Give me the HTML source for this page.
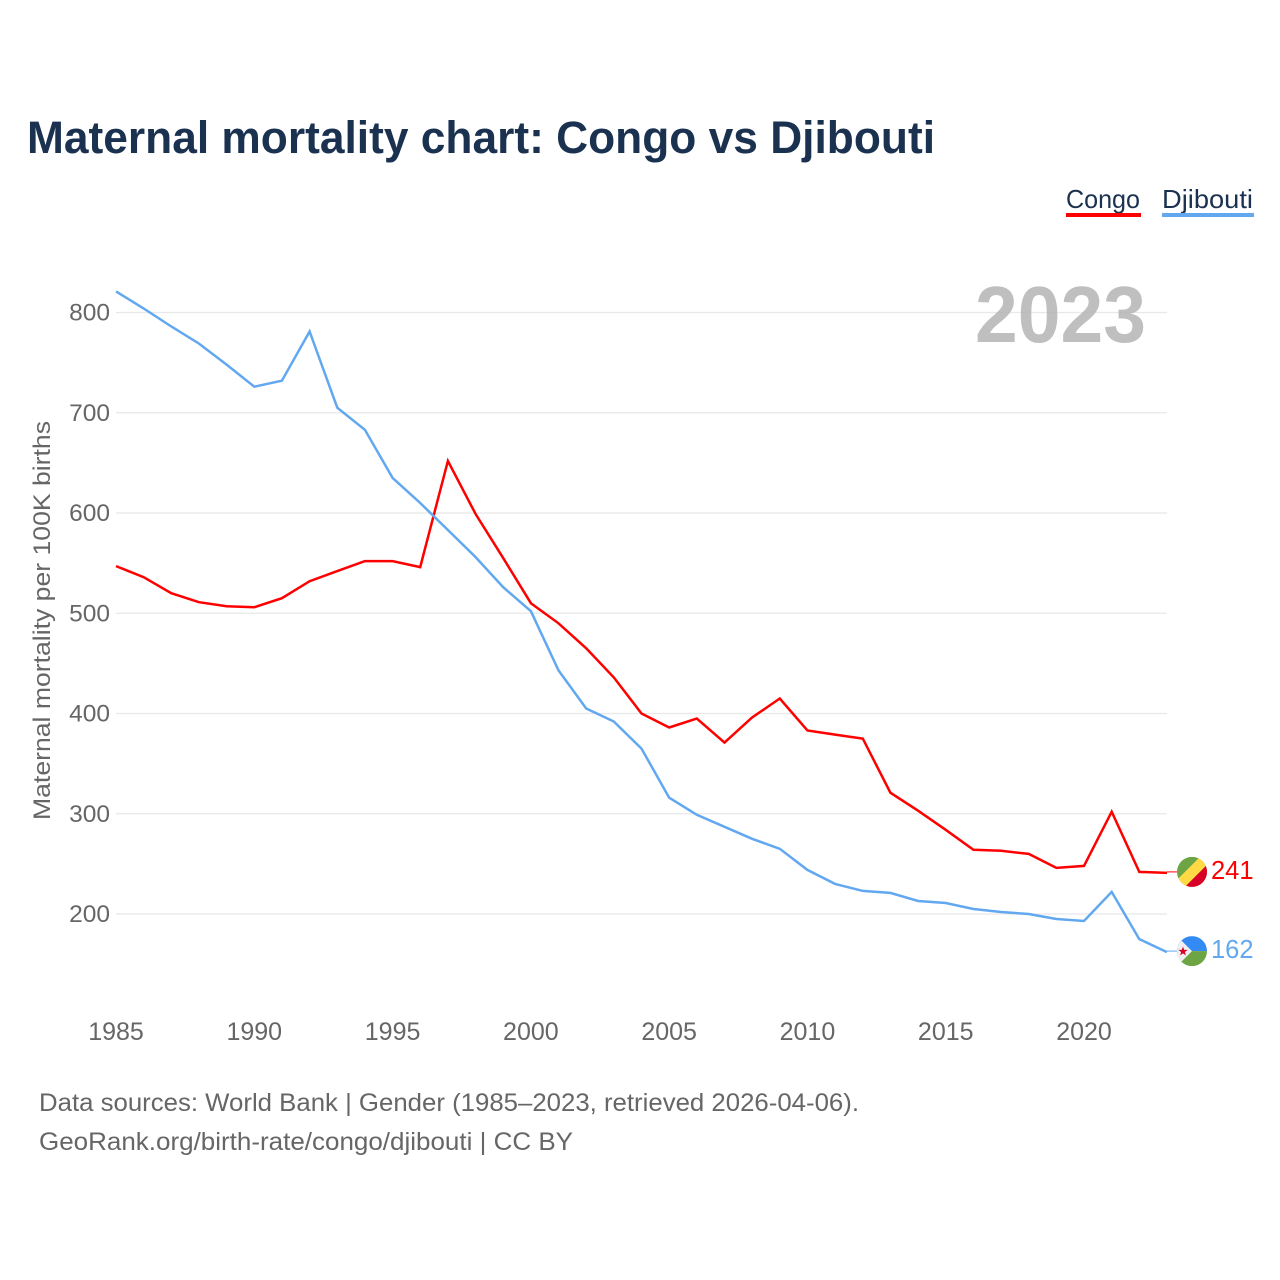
<!DOCTYPE html>
<html lang="en">
<head>
<meta charset="utf-8">
<title>Maternal mortality chart: Congo vs Djibouti</title>
<style>
html,body{margin:0;padding:0;background:#fff;width:1280px;height:1280px;overflow:hidden}
svg{display:block}
text{font-family:"Liberation Sans",sans-serif}
</style>
</head>
<body>
<svg id="chart" xmlns="http://www.w3.org/2000/svg" width="1280" height="1280" viewBox="0 0 1280 1280">
  <rect width="1280" height="1280" fill="#ffffff"/>
  <text x="27" y="153" font-size="45" font-weight="700" fill="#1a3150" textLength="908" lengthAdjust="spacingAndGlyphs">Maternal mortality chart: Congo vs Djibouti</text>

  <g>
    <text x="1066" y="208" font-size="26" fill="#1a3150" textLength="74" lengthAdjust="spacingAndGlyphs">Congo</text>
    <rect x="1066" y="213" width="75" height="4" fill="#ff0000"/>
  </g>
  <g>
    <text x="1162" y="208" font-size="26" fill="#1a3150" textLength="91" lengthAdjust="spacingAndGlyphs">Djibouti</text>
    <rect x="1162" y="213" width="92" height="4" fill="#62a8f0"/>
  </g>

  <g id="grid"></g>
  <text x="975" y="342" font-size="80" font-weight="700" fill="#b4b4b4" fill-opacity="0.85" textLength="171" lengthAdjust="spacingAndGlyphs">2023</text>
  <g id="yticks"></g>
  <g id="xticks"></g>
  <text transform="translate(50 820) rotate(-90)" font-size="24.5" fill="#666666" textLength="399" lengthAdjust="spacingAndGlyphs">Maternal mortality per 100K births</text>
  <g id="series"></g>

  <defs>
    <clipPath id="flag-clip"><circle cx="0" cy="0" r="15"/></clipPath>
  </defs>
  <g id="flag-congo">
    <g clip-path="url(#flag-clip)">
      <rect x="-15" y="-15" width="30" height="30" fill="#6da544"/>
      <polygon points="-22,15 15,-22 24,-16 -16,24" fill="#ffda44"/>
      <polygon points="-16,24 24,-16 24,24" fill="#d80027"/>
    </g>
  </g>
  <g id="flag-djibouti">
    <g clip-path="url(#flag-clip)">
      <rect x="-15" y="-15" width="30" height="15" fill="#338af3"/>
      <rect x="-15" y="0" width="30" height="15" fill="#6da544"/>
      <polygon points="-15,-15 0,0 -15,15" fill="#f0f0f0"/>
      <polygon points="-9,-4.5 -7.8,-1.2 -4.3,-1.2 -7.1,0.9 -6.1,4.3 -9,2.3 -11.9,4.3 -10.9,0.9 -13.7,-1.2 -10.2,-1.2" fill="#d80027"/>
    </g>
  </g>
  <text id="value-congo" x="1211" font-size="25.5" fill="#ff0000"></text>
  <text id="value-djibouti" x="1211" font-size="25.5" fill="#62a8f0"></text>

  <text x="39" y="1111" font-size="25" fill="#666666" textLength="820" lengthAdjust="spacingAndGlyphs">Data sources: World Bank | Gender (1985–2023, retrieved 2026-04-06).</text>
  <text x="39" y="1150" font-size="25" fill="#666666" textLength="534" lengthAdjust="spacingAndGlyphs">GeoRank.org/birth-rate/congo/djibouti | CC BY</text>
</svg>
<script>
const years = [1985,1986,1987,1988,1989,1990,1991,1992,1993,1994,1995,1996,1997,1998,1999,2000,2001,2002,2003,2004,2005,2006,2007,2008,2009,2010,2011,2012,2013,2014,2015,2016,2017,2018,2019,2020,2021,2022,2023];
const congoValues = [547,536,520,511,507,506,515,532,542,552,552,546,652,599,555,510,490,465,436,400,386,395,371,396,415,383,379,375,321,303,284,264,263,260,246,248,302,242,241];
const djiboutiValues = [821,804,786,769,748,726,732,781,705,683,635,610,583,556,526,502,443,405,392,365,316,299,287,275,265,244,230,223,221,213,211,205,202,200,195,193,222,175,162];
const yTickValues = [200,300,400,500,600,700,800];
const xTickLabels = [1985,1990,1995,2000,2005,2010,2015,2020];

const NS = 'http://www.w3.org/2000/svg';
const plotLeft = 116, plotRight = 1167;
function xScale(year) {
  return plotLeft + (year - 1985) * (plotRight - plotLeft) / (2023 - 1985);
}
function yScale(value) {
  return 914 - (value - 200) * 1.0025;
}
function make(tag, parent) {
  const el = document.createElementNS(NS, tag);
  parent.appendChild(el);
  return el;
}

const grid = document.getElementById('grid');
const yticks = document.getElementById('yticks');
yTickValues.forEach(function (v) {
  const line = make('line', grid);
  
  
  line.setAttribute('x1', plotLeft);
  line.setAttribute('x2', plotRight);
  line.setAttribute('y1', yScale(v));
  line.setAttribute('y2', yScale(v));
  line.setAttribute('stroke', '#e8e8e8');
  line.setAttribute('stroke-width', '1.2');
  const label = make('text', yticks);
  
  
  label.setAttribute('x', 110);
  label.setAttribute('y', yScale(v) + 8);
  label.setAttribute('text-anchor', 'end');
  label.setAttribute('font-size', '24.5');
  label.setAttribute('fill', '#666666');
  label.textContent = v;
});

const xticks = document.getElementById('xticks');
xTickLabels.forEach(function (y) {
  const label = make('text', xticks);
  
  
  label.setAttribute('x', xScale(y));
  label.setAttribute('y', 1040);
  label.setAttribute('text-anchor', 'middle');
  label.setAttribute('font-size', '25');
  label.setAttribute('fill', '#666666');
  label.textContent = y;
});

const flagX = 1192;
const seriesGroup = document.getElementById('series');
function drawSeries(name, values, color) {
  const pts = values.map(function (v, i) {
    return xScale(years[i]).toFixed(1) + ',' + yScale(v).toFixed(1);
  }).join(' ');
  const line = make('polyline', seriesGroup);
  
  
  line.setAttribute('points', pts);
  line.setAttribute('fill', 'none');
  line.setAttribute('stroke', color);
  line.setAttribute('stroke-width', '2.5');
  line.setAttribute('stroke-linejoin', 'miter');
  const last = values[values.length - 1];
  const yEnd = yScale(last) - 1;
  const connector = make('line', seriesGroup);
  
  
  connector.setAttribute('x1', plotRight);
  connector.setAttribute('x2', flagX - 15);
  connector.setAttribute('y1', yEnd);
  connector.setAttribute('y2', yEnd);
  connector.setAttribute('stroke', color);
  connector.setAttribute('stroke-width', '1');
  document.getElementById('flag-' + name).setAttribute('transform', 'translate(' + flagX + ' ' + yEnd + ')');
  const val = document.getElementById('value-' + name);
  val.setAttribute('y', yEnd + 7);
  val.textContent = last;
}
drawSeries('congo', congoValues, '#ff0000');
drawSeries('djibouti', djiboutiValues, '#62a8f0');
</script>
</body>
</html>
